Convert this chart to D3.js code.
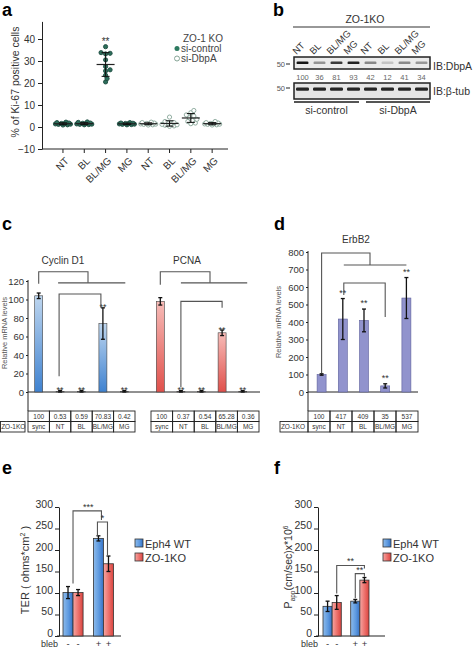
<!DOCTYPE html>
<html><head><meta charset="utf-8">
<script src="https://cdn.jsdelivr.net/npm/d3@7"></script>
<style>body{margin:0;background:#fff}svg{display:block}text{font-family:'Liberation Sans',Arial,sans-serif}</style>
</head><body><svg id="chart" width="474" height="649"></svg>
<script>
// ---------------- DATA ----------------
// panel a: % Ki-67 positive cells (ZO-1 KO)
const kiCategories = ["NT","BL","BL/MG","MG","NT","BL","BL/MG","MG"];
const kiSeries = ["si-control","si-control","si-control","si-control","si-DbpA","si-DbpA","si-DbpA","si-DbpA"];
const kiCtrlNT   = [1.0,1.3,1.5,1.8,2.0,2.2,1.2,0.9,1.6,1.4];
const kiCtrlBL   = [1.1,1.5,1.8,2.1,1.3,1.0,1.7,1.4,2.3,1.2];
const kiCtrlBLMG = [36.5,33.8,33.5,33.2,30.5,27.5,26.0,25.5,23.5,22.0,20.5];
const kiCtrlMG   = [1.2,1.5,1.8,1.0,1.4,1.6,2.0,1.3,1.1,1.7];
const kiDbpNT    = [1.2,1.6,2.0,1.0,1.4,1.8,2.2,1.3,0.9,1.5];
const kiDbpBL    = [4.5,2.5,1.8,1.2,0.5,0.3,1.5,2.0,0.8,1.0];
const kiDbpBLMG  = [7.5,6.5,5.5,5.0,4.2,3.5,2.5,1.8,1.5,3.0];
const kiDbpMG    = [1.0,1.5,2.0,1.2,1.8,2.5,1.3,0.9,1.6,1.4];
const kiTicks = [-10,0,10,20,30,40];
const kiSignif = ["","","**","","","","",""];

// panel b: western blot
const blotLanes = ["NT","BL","BL/MG","MG","NT","BL","BL/MG","MG"];
const dbpaLevels = [100,36,81,93,42,12,41,34];
const blotGroups = ["si-control","si-DbpA"];

// panel c: relative mRNA levels
const mrnaConditions = ["sync","NT","BL","BL/MG","MG"];
const cyclinD1 = [104,0.53,0.59,74,0.42];
const cyclinD1Err = [3,1.2,1.2,17,1.2];
const cyclinD1Table = ["100","0.53","0.59","70.83","0.42"];
const pcna = [98,0.37,0.54,64,0.36];
const pcnaErr = [4,1.2,1.2,3,1.2];
const pcnaTable = ["100","0.37","0.54","65.28","0.36"];
const cSignif = ["","**","**","**","**"];
const mrnaTicks = [0,20,40,60,80,100,120];

// panel d: ErbB2
const erbb2 = [100,417,409,35,537];
const erbb2Err = [4,117,65,12,117];
const erbb2Table = ["100","417","409","35","537"];
const erbTicks = [0,100,200,300,400,500,600,700,800];

// panels e, f
const blebGroups = ["-","+"];
const lines = ["Eph4 WT","ZO-1KO"];
const terWT = [101,227], terWTErr = [14,6];
const terKO = [101,168], terKOErr = [7,18];
const pappWT = [69,81], pappWTErr = [12,4];
const pappKO = [78,130], pappKOErr = [16,6];
const efTicks = [0,50,100,150,200,250,300];

// ---------------- DRAW ----------------
const svg = d3.select("#chart");
svg.append("rect").attr("width",474).attr("height",649).attr("fill","#fff");
const defs = svg.append("defs");
function grad(id, x2, y2, stops){
  const g = defs.append("linearGradient").attr("id",id).attr("x1",0).attr("y1",0).attr("x2",x2).attr("y2",y2);
  stops.forEach(s=>g.append("stop").attr("offset",s[0]).attr("stop-color",s[1]));
}
grad("bV",0,1,[[0,"#bed6ef"],[1,"#3f82d0"]]);
grad("rV",0,1,[[0,"#f7bcb8"],[1,"#e0504b"]]);
grad("bH",1,0,[[0,"#8dbbeb"],[0.55,"#5e9ae0"],[1,"#3571c4"]]);
grad("rH",1,0,[[0,"#f5a6a3"],[0.55,"#ec6e69"],[1,"#d9443f"]]);
defs.append("filter").attr("id","blur").append("feGaussianBlur").attr("stdDeviation",0.6);

const INK = "#222";
function panelLabel(t,x,y){ svg.append("text").attr("x",x).attr("y",y).attr("font-size",18).attr("font-weight","bold").attr("fill","#000").text(t); }
function styleAxis(g, fs){
  g.selectAll("path,line").attr("stroke",INK).attr("stroke-width",1);
  g.selectAll("text").attr("font-size",fs).attr("fill","#333").attr("font-family","'Liberation Sans',Arial,sans-serif");
}
function errBar(g, x, yTop, yBot, w, sw){
  g.append("line").attr("x1",x).attr("x2",x).attr("y1",yTop).attr("y2",yBot).attr("stroke","#111").attr("stroke-width",sw||1.2);
  [yTop,yBot].forEach(yy=>g.append("line").attr("x1",x-w/2).attr("x2",x+w/2).attr("y1",yy).attr("y2",yy).attr("stroke","#111").attr("stroke-width",sw||1.2));
}
function bracket(g, d){ g.append("path").attr("d",d).attr("fill","none").attr("stroke","#555").attr("stroke-width",1.1); }
function stars(g, x, y, t, fs){ g.append("text").attr("x",x).attr("y",y).attr("text-anchor","middle").attr("font-size",fs||9).attr("fill","#333").text(t); }

// ===== Panel a =====
panelLabel("a",2,16);
const ga = svg.append("g");
const aY = d3.scaleLinear().domain([-10,48]).range([149,21.4]);
const aX = d3.scaleBand().domain(d3.range(8)).range([52.3,222.8]);
const ay = ga.append("g").attr("transform","translate(42,0)").call(d3.axisLeft(aY).tickValues(kiTicks).tickSize(4).tickSizeOuter(0).tickPadding(3));
styleAxis(ay,10);
const axb = ga.append("g").attr("transform","translate(0,149)").call(d3.axisBottom(aX).tickFormat(i=>kiCategories[i]).tickSize(4));
axb.select(".domain").remove();
axb.append("line").attr("x1",42).attr("x2",228).attr("y1",0).attr("y2",0);
axb.selectAll(".tick text").attr("x",0).attr("y",0).attr("dy","0.35em").attr("text-anchor","end").attr("transform","translate(4,10) rotate(-45)");
styleAxis(axb,10);
ga.append("text").attr("transform","translate(19,82) rotate(-90)").attr("text-anchor","middle").attr("font-size",10.5).attr("fill","#333").text("% of Ki-67 positive cells");

const kiGroups = [kiCtrlNT,kiCtrlBL,kiCtrlBLMG,kiCtrlMG,kiDbpNT,kiDbpBL,kiDbpBLMG,kiDbpMG];
kiGroups.forEach((vals,gi)=>{
  const cx = aX(gi)+aX.bandwidth()/2;
  const ctrl = kiSeries[gi]==="si-control";
  // compact beeswarm placement, limited to +-7.5 px
  const placed = [];
  const cands = d3.range(11).map(k=>(k%2?1:-1)*Math.ceil(k/2)*1.5);
  vals.slice().sort((a,b)=>a-b).forEach(v=>{
    const py = aY(v);
    let best = cands[0], bestD = -1;
    for(const c of cands){
      const dmin = placed.length? d3.min(placed,p=>Math.hypot(p[0]-c,p[1]-py)) : 99;
      if(dmin>=3.6){best=c;bestD=99;break;}
      if(dmin>bestD){bestD=dmin;best=c;}
    }
    placed.push([best,py]);
  });
  placed.forEach(p=>{
    ga.append("circle").attr("cx",cx+p[0]).attr("cy",p[1]).attr("r",2.1)
      .attr("fill",ctrl?"#2d6e5b":"#fff").attr("stroke",ctrl?"#1d4c3f":"#86a597").attr("stroke-width",0.9);
  });
  const m = d3.mean(vals), sd = d3.deviation(vals);
  ga.append("line").attr("x1",cx-9).attr("x2",cx+9).attr("y1",aY(m)).attr("y2",aY(m)).attr("stroke","#222").attr("stroke-width",1.2);
  errBar(ga,cx,aY(m+sd),aY(m-sd),8,1);
  if(kiSignif[gi]) stars(ga,cx,aY(39)+4,kiSignif[gi],10);
});
// legend a
ga.append("text").attr("x",183).attr("y",41.5).attr("font-size",10).attr("fill","#444").text("ZO-1 KO");
ga.append("circle").attr("cx",177).attr("cy",48.5).attr("r",2.5).attr("fill","#2d7a60");
ga.append("text").attr("x",181).attr("y",52).attr("font-size",10).attr("fill","#444").text("si-control");
ga.append("circle").attr("cx",177).attr("cy",58.5).attr("r",2.5).attr("fill","#fff").attr("stroke","#86a597");
ga.append("text").attr("x",181).attr("y",62).attr("font-size",10).attr("fill","#444").text("si-DbpA");

// ===== Panel b =====
panelLabel("b",273,16);
const gb = svg.append("g");
const bX = d3.scaleBand().domain(d3.range(8)).range([294,430]);
const bc = i=>bX(i)+bX.bandwidth()/2;
gb.append("text").attr("x",365).attr("y",23).attr("text-anchor","middle").attr("font-size",10.5).attr("fill","#333").text("ZO-1KO");
gb.append("line").attr("x1",293).attr("x2",430).attr("y1",27).attr("y2",27).attr("stroke","#333").attr("stroke-width",1.2);
blotLanes.forEach((l,i)=>{
  gb.append("text").attr("transform",`translate(${bc(i)-6},55) rotate(-45)`).attr("font-size",9.5).attr("fill","#333").text(l);
});
const shade = d3.scaleLinear().domain([0,100]).range(["#dcdcdc","#151515"]);
gb.append("rect").attr("x",294).attr("y",57).attr("width",136).attr("height",12).attr("fill","#ebebeb").attr("stroke","#222").attr("stroke-width",1.5);
dbpaLevels.forEach((v,i)=>{
  gb.append("rect").attr("x",bc(i)-6).attr("y",61.5).attr("width",12).attr("height",2.6).attr("rx",1.2)
    .attr("fill",shade(v)).attr("filter","url(#blur)");
  gb.append("text").attr("x",bc(i)).attr("y",79.5).attr("text-anchor","middle").attr("font-size",7.5).attr("fill","#666").text(v);
});
gb.append("rect").attr("x",294).attr("y",83).attr("width",136).attr("height",16).attr("fill","#e6e6e6").attr("stroke","#222").attr("stroke-width",1.5);
blotLanes.forEach((l,i)=>{
  gb.append("rect").attr("x",bc(i)-6.5).attr("y",87.5).attr("width",13).attr("height",3.2).attr("rx",1.2).attr("fill","#262626").attr("filter","url(#blur)");
});
[[64,"50"],[88,"50"]].forEach(r=>{
  gb.append("text").attr("x",285).attr("y",r[0]+2.5).attr("text-anchor","end").attr("font-size",7.5).attr("fill","#555").text(r[1]);
  gb.append("line").attr("x1",286).attr("x2",290).attr("y1",r[0]).attr("y2",r[0]).attr("stroke","#444").attr("stroke-width",1.2);
});
gb.append("text").attr("x",433).attr("y",69.5).attr("font-size",10.5).attr("fill","#333").text("IB:DbpA");
gb.append("text").attr("x",433).attr("y",94.5).attr("font-size",10.5).attr("fill","#333").text("IB:β-tub");
blotGroups.forEach((gname,k)=>{
  const x1 = bX(k*4)+(k?4:0), x2 = bX(k*4+3)+bX.bandwidth()-(k?0:3);
  gb.append("line").attr("x1",x1).attr("x2",x2).attr("y1",102).attr("y2",102).attr("stroke","#555").attr("stroke-width",2);
  gb.append("text").attr("x",(x1+x2)/2).attr("y",114).attr("text-anchor","middle").attr("font-size",10.5).attr("fill","#333").text(gname);
});

// ===== Panel c =====
panelLabel("c",2,230);
const gc = svg.append("g");
const cY = d3.scaleLinear().domain([0,120]).range([392,281]);
const cX1 = d3.scaleBand().domain(d3.range(5)).range([28,135]);
const cX2 = d3.scaleBand().domain(d3.range(5)).range([150,253]);
const cT2 = d3.scaleBand().domain(d3.range(5)).range([151,259]);
const cyAx = gc.append("g").attr("transform","translate(28,0)").call(d3.axisLeft(cY).tickValues(mrnaTicks).tickSize(2).tickSizeOuter(0).tickPadding(2));
cyAx.select(".domain").remove();
styleAxis(cyAx,9.5);
gc.append("line").attr("x1",28).attr("x2",28).attr("y1",280).attr("y2",411).attr("stroke",INK);
gc.append("line").attr("x1",28).attr("x2",260).attr("y1",392).attr("y2",392).attr("stroke",INK);
gc.append("text").attr("transform","translate(7,333) rotate(-90)").attr("text-anchor","middle").attr("font-size",7.5).attr("fill","#555").text("Relative mRNA levels");

function mrnaGroup(g, xs, ys, vals, errs, fill, sig){
  const c = i=>xs(i)+xs.bandwidth()/2;
  vals.forEach((v,i)=>{
    g.append("rect").attr("x",c(i)-4).attr("y",ys(v)).attr("width",8).attr("height",ys(0)-ys(v))
      .attr("fill",fill).attr("stroke","#444").attr("stroke-width",0.6);
    errBar(g,c(i),ys(v+errs[i]),ys(Math.max(0,v-errs[i])),4,1.3);
    if(sig[i]) stars(g,c(i),ys(v+errs[i])+2.5,sig[i],9);
  });
  return c;
}
const cc1 = mrnaGroup(gc,cX1,cY,cyclinD1,cyclinD1Err,"url(#bV)",cSignif);
const cc2 = mrnaGroup(gc,cX2,cY,pcna,pcnaErr,"url(#rV)",cSignif);
gc.append("text").attr("x",63).attr("y",264).attr("text-anchor","middle").attr("font-size",10).attr("fill","#333").text("Cyclin D1");
gc.append("text").attr("x",187).attr("y",264).attr("text-anchor","middle").attr("font-size",10).attr("fill","#333").text("PCNA");
// brackets Cyclin D1
bracket(gc,`M${cc1(0)},${cY(117)} V${cY(130)} H${cc1(2)+6.5} V${cY(118)}`);
bracket(gc,`M${cc1(1)-2},${cY(118)} H${cc1(4)+1}`);
bracket(gc,`M${cc1(1)-1},${cY(17)} V${cY(106)} H${cc1(3)-2} V${cY(91)}`);
// brackets PCNA
bracket(gc,`M${cc2(0)},${cY(116)} V${cY(130)} H${cc2(2)+8.5} V${cY(118)}`);
bracket(gc,`M${cc2(1)},${cY(118)} H${cc2(4)+4.5}`);
bracket(gc,`M${cc2(1)},${cY(5)} V${cY(98)} H${cc2(3)} V${cY(91)}`);

function table(g, xs, top, vals, conds, labelX0){
  const rh = 10.5;
  xs.domain().forEach(i=>{
    const x = xs(i), w = xs.bandwidth();
    g.append("rect").attr("x",x).attr("y",top).attr("width",w).attr("height",rh).attr("fill","none").attr("stroke",INK).attr("stroke-width",0.9);
    g.append("rect").attr("x",x).attr("y",top+rh).attr("width",w).attr("height",rh).attr("fill","none").attr("stroke",INK).attr("stroke-width",0.9);
    g.append("text").attr("x",x+w/2).attr("y",top+rh/2+2.3).attr("text-anchor","middle").attr("font-size",6.5).attr("fill","#333").text(vals[i]);
    g.append("text").attr("x",x+w/2).attr("y",top+rh*1.5+2.3).attr("text-anchor","middle").attr("font-size",6.5).attr("fill","#333").text(conds[i]);
  });
  if(labelX0!==null){
    const x0 = labelX0, x1 = xs(0);
    g.append("rect").attr("x",x0).attr("y",top+rh).attr("width",x1-x0-(labelX0<5?3:0)).attr("height",rh).attr("fill","none").attr("stroke",INK).attr("stroke-width",0.9);
    g.append("text").attr("x",(x0+x1)/2-1).attr("y",top+rh*1.5+2.3).attr("text-anchor","middle").attr("font-size",6.5).attr("fill","#333").text("ZO-1KO");
  }
}
table(gc,cX1,411,cyclinD1Table,mrnaConditions,0.5);
table(gc,cT2,411,pcnaTable,mrnaConditions,null);

// ===== Panel d =====
panelLabel("d",274,230);
const gd = svg.append("g");
const dY = d3.scaleLinear().domain([0,800]).range([392,252]);
const dX = d3.scaleBand().domain(d3.range(5)).range([311,417]);
const dT = d3.scaleBand().domain(d3.range(5)).range([308,418]);
const dyAx = gd.append("g").attr("transform","translate(308,0)").call(d3.axisLeft(dY).tickValues(erbTicks).tickSize(2).tickSizeOuter(0).tickPadding(2));
dyAx.select(".domain").remove();
styleAxis(dyAx,9.5);
gd.append("line").attr("x1",308).attr("x2",308).attr("y1",251).attr("y2",411).attr("stroke",INK);
gd.append("line").attr("x1",308).attr("x2",418).attr("y1",392).attr("y2",392).attr("stroke",INK);
gd.append("text").attr("transform","translate(281,322) rotate(-90)").attr("text-anchor","middle").attr("font-size",7.5).attr("fill","#555").text("Relative mRNA levels");
gd.append("text").attr("x",356).attr("y",243).attr("text-anchor","middle").attr("font-size",10).attr("fill","#333").text("ErbB2");
const dc = i=>dX(i)+dX.bandwidth()/2;
erbb2.forEach((v,i)=>{
  gd.append("rect").attr("x",dc(i)-4.5).attr("y",dY(v)).attr("width",9).attr("height",dY(0)-dY(v))
    .attr("fill","#9193cd").attr("stroke","#5d5f9c").attr("stroke-width",0.6);
  errBar(gd,dc(i),dY(v+erbb2Err[i]),dY(Math.max(0,v-erbb2Err[i])),4,1.3);
  if(cSignif[i]) stars(gd,dc(i),dY(v+erbb2Err[i])-3,cSignif[i],9);
});
bracket(gd,`M${dc(0)},${dY(109)} V${dY(794)} H${dc(2)+6} V${dY(726)}`);
bracket(gd,`M${dc(1)+1},${dY(726)} H${dc(4)}`);
bracket(gd,`M${dc(1)+1},${dY(554)} V${dY(623)} H${dc(3)} V${dY(429)}`);
table(gd,dT,411,erbb2Table,mrnaConditions,280);

// ===== Panels e & f =====
const EF0 = 636;
function efPanel(lbl, lblX, axisX, xRange, axisEnd, wt, wtE, ko, koE, legX, ylab, brk){
  panelLabel(lbl,lblX,474);
  const g = svg.append("g");
  const yS = d3.scaleLinear().domain([0,300]).range([EF0,507]);
  const x0 = d3.scaleBand().domain(blebGroups).range(xRange).paddingInner(0.34);
  const x1 = d3.scaleBand().domain(lines).range([0,x0.bandwidth()]);
  const yAx = g.append("g").attr("transform",`translate(${axisX},0)`).call(d3.axisLeft(yS).tickValues(efTicks).tickSize(4).tickSizeOuter(0).tickPadding(2));
  styleAxis(yAx,10.5);
  yAx.selectAll(".tick text").attr("dy","0.03em");
  g.append("line").attr("x1",axisX-2).attr("x2",axisEnd).attr("y1",EF0).attr("y2",EF0).attr("stroke",INK);
  const series = [[wt,wtE,"url(#bH)"],[ko,koE,"url(#rH)"]];
  const cx = (gi,si)=>x0(blebGroups[gi])+x1(lines[si])+x1.bandwidth()/2;
  blebGroups.forEach((b,gi)=>{
    series.forEach((s,si)=>{
      const x = x0(b)+x1(lines[si]);
      g.append("rect").attr("x",x).attr("y",yS(s[0][gi])).attr("width",x1.bandwidth()).attr("height",EF0-yS(s[0][gi]))
        .attr("fill",s[2]).attr("stroke","#333").attr("stroke-width",0.8);
      errBar(g,cx(gi,si),yS(s[0][gi]+s[1][gi]),yS(s[0][gi]-s[1][gi]),4,1.3);
      g.append("text").attr("x",cx(gi,si)).attr("y",646.5).attr("text-anchor","middle").attr("font-size",9.5).attr("fill","#333").text(b);
    });
  });
  g.append("text").attr("x",x0(blebGroups[0])-5).attr("y",647).attr("text-anchor","end").attr("font-size",9).attr("fill","#333").text("bleb");
  lines.forEach((l,si)=>{
    g.append("rect").attr("x",legX).attr("y",539+si*14).attr("width",8).attr("height",8).attr("fill",series[si][2]).attr("stroke","#333").attr("stroke-width",0.8);
    g.append("text").attr("x",legX+10).attr("y",547.5+si*14).attr("font-size",11).attr("fill","#333").text(l);
  });
  ylab(g);
  brk(g,yS,cx);
}
efPanel("e",2,59,[63,113.5],121,terWT,terWTErr,terKO,terKOErr,135,
  g=>{const t=g.append("text").attr("transform","translate(29,570) rotate(-90)").attr("text-anchor","middle").attr("font-size",11).attr("fill","#333");
      t.append("tspan").text("TER ( ohms*cm"); t.append("tspan").attr("font-size",7).attr("dy",-4).text("2"); t.append("tspan").attr("dy",4).text(" )");},
  (g,yS,cx)=>{
    bracket(g,`M${cx(0,0)+5},${yS(122)} V${yS(291)} H${cx(1,0)+3} V${yS(270)}`);
    stars(g,(cx(0,0)+cx(1,0))/2+5,yS(291)-1,"***",9);
    bracket(g,`M${cx(1,0)-1},${yS(233)} V${yS(265)} H${cx(1,1)-1} V${yS(187)}`);
    stars(g,(cx(1,0)+cx(1,1))/2-1,yS(265)-1,"*",9);
  });
efPanel("f",274,318,[323,369],385,pappWT,pappWTErr,pappKO,pappKOErr,383,
  g=>{const t=g.append("text").attr("transform","translate(292,567) rotate(-90)").attr("text-anchor","middle").attr("font-size",10.5).attr("fill","#333");
      t.append("tspan").text("P"); t.append("tspan").attr("font-size",6.5).attr("dy",3).text("app");
      t.append("tspan").attr("dy",-3).text("(cm/sec)x*10"); t.append("tspan").attr("font-size",6.5).attr("dy",-4).text("6");},
  (g,yS,cx)=>{
    bracket(g,`M${cx(0,1)},${yS(99)} V${yS(164)} H${cx(1,1)} V${yS(157)}`);
    stars(g,(cx(0,1)+cx(1,1))/2,yS(164)-1,"**",9);
    bracket(g,`M${cx(1,0)},${yS(88)} V${yS(145)} H${cx(1,1)} V${yS(138)}`);
    stars(g,(cx(1,0)+cx(1,1))/2,yS(145)-1,"**",9);
  });
</script></body></html>
